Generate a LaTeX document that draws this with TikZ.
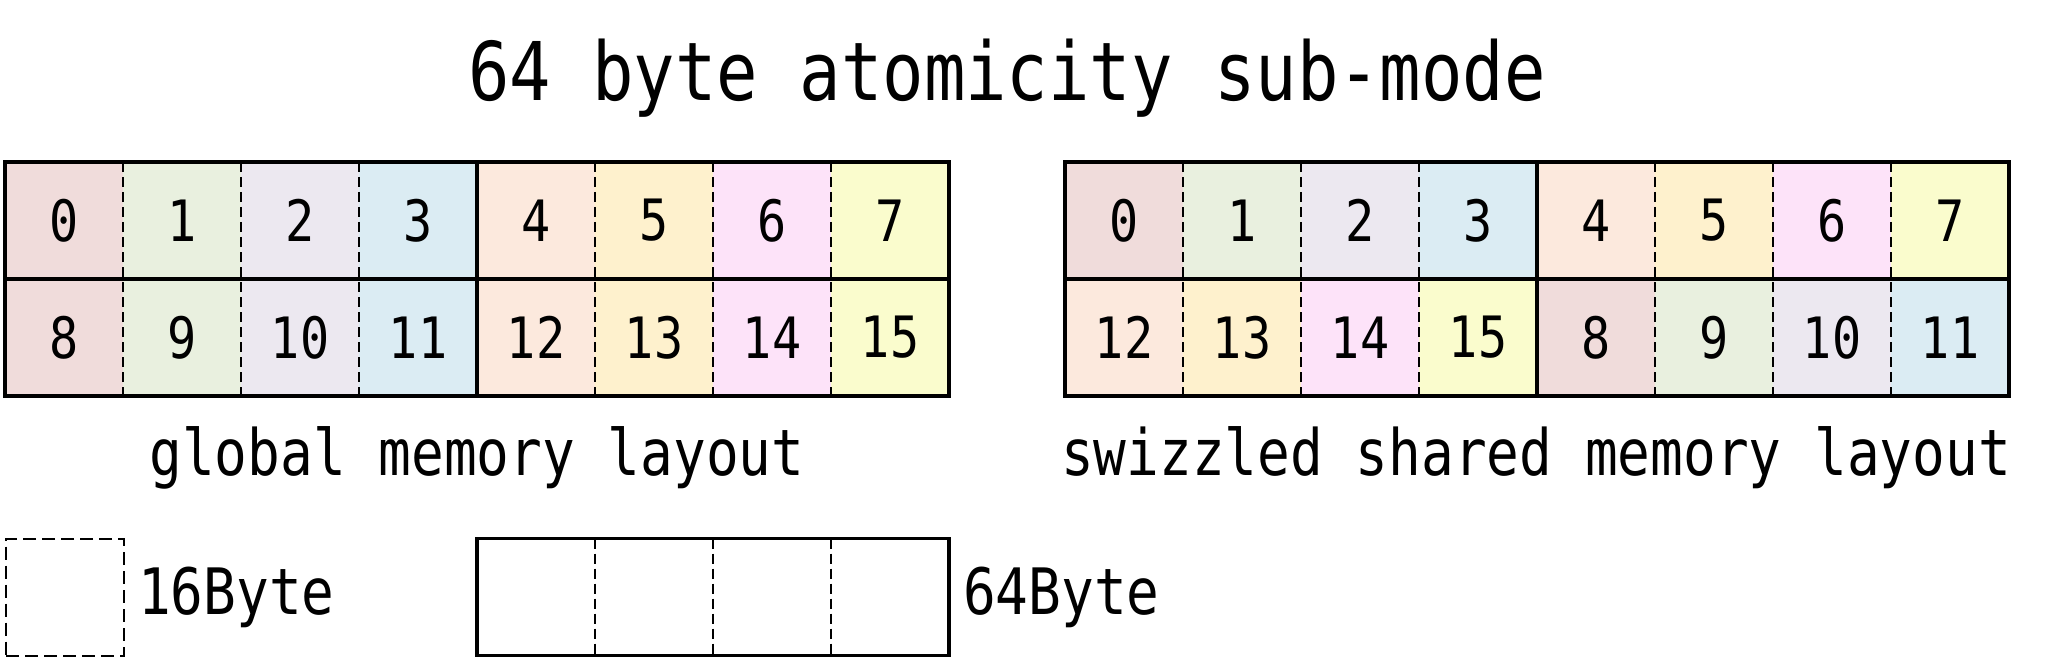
\documentclass[tikz,border=0pt]{standalone}
\usepackage{fontspec}
\newfontfamily\handfont[FakeStretch=0.85]{DejaVu Sans Mono}
\usepackage{tikz}
\usetikzlibrary{positioning}
\definecolor{blk0}{HTML}{F0DCDB}
\definecolor{blk1}{HTML}{E9F0DF}
\definecolor{blk2}{HTML}{ECE8F0}
\definecolor{blk3}{HTML}{DBECF3}
\definecolor{blk4}{HTML}{FCE9DD}
\definecolor{blk5}{HTML}{FEF1CD}
\definecolor{blk6}{HTML}{FDE3F9}
\definecolor{blk7}{HTML}{FAFCCD}
\newcommand{\cellfont}{\handfont\fontsize{57}{60}\selectfont}
\newcommand{\labelfont}{\handfont\fontsize{64}{70}\selectfont}
\newcommand{\titlefont}{\handfont\fontsize{81}{90}\selectfont}

\begin{document}
\begin{tikzpicture}[
  x=1pt, y=-1pt,
  node distance=14pt,
  cell/.style={rectangle, minimum width=118pt, minimum height=117pt,
               inner sep=0pt, outer sep=0pt, font=\cellfont},
  txt/.style={inner sep=0pt, font=\labelfont},
  outline/.style={line width=3.8pt, line join=miter},
  cellsep/.style={line width=2pt, dash pattern=on 10pt off 5pt}
]
  \useasboundingbox (0,0) rectangle (2056,663);

  \node[inner sep=0pt, font=\titlefont, anchor=base] (title) at (1007,101) {64 byte atomicity sub-mode};

  % global (g) and swizzled shared (s) layouts
  \foreach \i in {0,...,7} {
    \pgfmathtruncatemacro{\j}{\i+8}
    \pgfmathtruncatemacro{\k}{mod(\i+4,8)}
    \pgfmathtruncatemacro{\m}{\k+8}
    \node[cell, fill=blk\i] (ga\i) at (64+118*\i, 220.5) {\i};
    \node[cell, fill=blk\i] (gb\i) at (64+118*\i, 337.5) {\j};
    \node[cell, fill=blk\i] (sa\i) at (1124+118*\i, 220.5) {\i};
    \node[cell, fill=blk\k] (sb\i) at (1124+118*\i, 337.5) {\m};
  }
  \foreach \i in {0,1,2,4,5,6} {
    \draw[cellsep] (ga\i.north east) -- (gb\i.south east);
    \draw[cellsep] (sa\i.north east) -- (sb\i.south east);
  }
  \foreach \g in {g,s} {
    \draw[outline] (\g a0.north west) rectangle (\g b7.south east);
    \draw[outline] (\g a0.south west) -- (\g a7.south east);
    \draw[outline] (\g a3.north east) -- (\g b3.south east);
  }

  \node[txt, anchor=base] (glabel) at (477,475) {global memory layout};
  \node[txt, anchor=base] (slabel) at (1536,475) {swizzled shared memory layout};

  % legend
  \node[cell, draw, cellsep, dash pattern=on 13pt off 6pt] (key16) at (65,597) {};
  \node[txt, right=of key16] (key16txt) {16Byte};

  \foreach \i in {0,...,3}
    \node[cell] (key\i) at (536+118*\i, 597) {};
  \foreach \i in {0,1,2}
    \draw[cellsep] (key\i.north east) -- (key\i.south east);
  \draw[outline] (key0.north west) rectangle (key3.south east);
  \node[txt, right=of key3] (key64txt) {64Byte};
\end{tikzpicture}
\end{document}
